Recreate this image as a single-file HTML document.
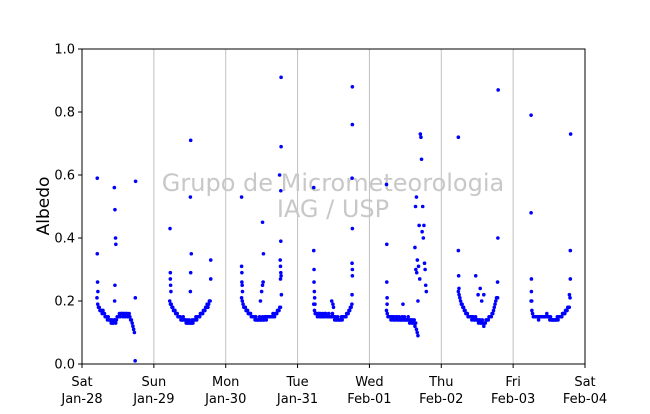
<!DOCTYPE html>
<html><head><meta charset="utf-8"><style>
body{margin:0;background:#fff;width:650px;height:409px;overflow:hidden}
svg{font-family:"DejaVu Sans","Liberation Sans",sans-serif}
</style></head><body>
<svg id="chart" width="650" height="409" viewBox="0 0 650 409" xmlns="http://www.w3.org/2000/svg">
<g id="grid"></g>
<text x="333" y="191" text-anchor="middle" font-size="24" fill="#c8c8c8">Grupo de Micrometeorologia</text>
<text x="333" y="217" text-anchor="middle" font-size="24" fill="#c8c8c8">IAG / USP</text>
<g id="points"></g>
<rect x="82" y="49" width="503" height="315" fill="none" stroke="#000" stroke-width="1"/>
<g id="axes"></g>
<text transform="translate(49,206) rotate(-90)" text-anchor="middle" font-size="17">Albedo</text>
</svg>
<script>
const dayNames=["Sat","Sun","Mon","Tue","Wed","Thu","Fri","Sat"];
const dateNames=["Jan-28","Jan-29","Jan-30","Jan-31","Feb-01","Feb-02","Feb-03","Feb-04"];
const yTicks=[0.0,0.2,0.4,0.6,0.8,1.0];
const dayStarts=[5.0,5.3,5.3,5.4,5.7,5.7,6.0];
const day0=[0.21,0.19,0.18,0.18,0.17,0.17,0.17,0.16,0.17,0.16,0.16,0.15,0.15,0.15,0.14,0.15,0.14,0.14,0.14,0.13,0.14,0.13,0.13,0.14,0.14,0.13,0.14,0.15,0.15,0.15,0.16,0.15,0.16,0.16,0.16,0.15,0.16,0.16,0.15,0.16,0.16,0.15,0.15,0.16,0.15,0.14,0.14,0.13,0.12,0.11,0.10,0.01];
const day1=[0.20,0.19,0.19,0.18,0.18,0.17,0.17,0.17,0.16,0.16,0.16,0.15,0.15,0.15,0.15,0.14,0.14,0.14,0.15,0.14,0.14,0.14,0.13,0.14,0.13,0.13,0.14,0.13,0.13,0.13,0.14,0.13,0.14,0.14,0.14,0.15,0.14,0.15,0.15,0.15,0.15,0.16,0.16,0.16,0.16,0.17,0.17,0.17,0.18,0.18,0.19,0.18,0.19,0.20,0.20];
const day2=[0.21,0.20,0.19,0.18,0.18,0.18,0.17,0.17,0.17,0.16,0.16,0.16,0.16,0.15,0.15,0.15,0.15,0.15,0.14,0.15,0.14,0.14,0.14,0.14,0.15,0.14,0.14,0.14,0.15,0.14,0.14,0.15,0.15,0.14,0.15,0.15,0.15,0.15,0.15,0.15,0.15,0.15,0.16,0.15,0.15,0.16,0.16,0.16,0.17,0.17,0.17,0.18,0.18];
const day3=[0.19,0.17,0.16,0.16,0.16,0.15,0.16,0.16,0.15,0.16,0.15,0.15,0.16,0.15,0.15,0.16,0.16,0.15,0.15,0.15,0.16,0.15,0.15,0.15,0.15,0.16,0.15,0.15,0.14,0.15,0.14,0.14,0.15,0.14,0.14,0.14,0.14,0.15,0.14,0.15,0.15,0.15,0.15,0.15,0.16,0.16,0.16,0.17,0.17,0.18,0.18,0.19];
const day4=[0.17,0.16,0.15,0.15,0.15,0.15,0.14,0.15,0.15,0.14,0.15,0.14,0.14,0.15,0.15,0.14,0.14,0.15,0.14,0.14,0.14,0.15,0.14,0.14,0.15,0.14,0.14,0.14,0.14,0.15,0.14,0.13,0.14,0.14,0.13,0.14,0.13,0.14,0.12,0.13,0.11,0.10,0.09];
const day5=[0.23,0.22,0.21,0.20,0.19,0.19,0.18,0.18,0.17,0.17,0.16,0.16,0.16,0.15,0.15,0.15,0.15,0.15,0.14,0.15,0.15,0.14,0.14,0.15,0.14,0.14,0.14,0.13,0.14,0.14,0.13,0.13,0.14,0.13,0.12,0.13,0.13,0.14,0.14,0.14,0.14,0.15,0.15,0.15,0.15,0.16,0.16,0.17,0.18,0.19,0.20,0.21,0.21];
const day6=[0.20,0.17,0.16,0.15,0.15,0.15,0.15,0.15,0.15,0.15,0.14,0.15,0.15,0.15,0.15,0.15,0.15,0.15,0.15,0.15,0.15,0.16,0.15,0.15,0.15,0.14,0.15,0.14,0.14,0.14,0.14,0.14,0.14,0.14,0.14,0.15,0.14,0.15,0.15,0.15,0.15,0.15,0.16,0.16,0.16,0.16,0.17,0.17,0.17,0.18,0.18,0.18];
const baseSeries=[day0,day1,day2,day3,day4,day5,day6];
const outDays=[0,0,0,0,0,0,0,0,0,0,0,0, 1,1,1,1,1,1,1,1,1,1,1,1, 2,2,2,2,2,2,2,2,2,2,2,2,2,2,2,2,2,2,2,2,2,2,2, 3,3,3,3,3,3,3,3,3,3,3,3,3,3,3,3,3,3, 4,4,4,4,4,4,4,4,4,4,4,4,4,4,4,4,4,4,4,4,4,4,4,4,4,4,4, 5,5,5,5,5,5,5,5,5,5,5,5,5, 6,6,6,6,6,6,6,6,6,6];
const outHours=[5.1,5.1,5.2,5.3,10.8,11.0,11.2,11.3,11.0,10.9,17.9,17.8, 5.4,5.5,5.5,5.6,5.7,12.3,12.2,12.5,12.3,12.2,19.0,19.0, 5.3,5.3,5.4,5.4,5.5,5.6,12.3,12.6,12.5,12.3,12.0,11.6,18.0,18.5,18.5,18.4,18.4,18.2,18.3,18.4,18.5,18.3,18.6, 5.4,5.4,5.5,5.5,5.6,5.7,5.8,11.4,11.8,12.0,18.3,18.3,18.2,18.3,18.2,18.3,18.3,18.2, 5.7,5.8,5.8,5.9,5.9,11.2,15.2,15.4,15.5,15.7,15.8,16.0,16.2,16.4,16.6,16.8,17.0,17.2,17.4,17.6,17.8,18.0,18.2,18.4,18.6,18.8,19.0, 5.7,5.7,5.8,5.9,11.5,12.3,13.0,13.5,14.2,18.8,19.0,18.9,18.8, 6.0,6.0,6.1,6.1,6.2,18.8,19.2,19.1,19.1,19.0];
const outValues=[0.59,0.35,0.26,0.23,0.56,0.49,0.40,0.38,0.25,0.20,0.58,0.21, 0.43,0.29,0.27,0.25,0.23,0.71,0.53,0.35,0.29,0.23,0.33,0.27, 0.53,0.31,0.29,0.26,0.25,0.23,0.45,0.35,0.26,0.25,0.23,0.20,0.60,0.91,0.69,0.55,0.39,0.33,0.31,0.29,0.28,0.27,0.22, 0.56,0.36,0.30,0.26,0.23,0.21,0.19,0.20,0.19,0.18,0.88,0.76,0.59,0.43,0.32,0.30,0.28,0.22, 0.57,0.38,0.26,0.21,0.19,0.19,0.37,0.50,0.30,0.53,0.29,0.33,0.20,0.31,0.44,0.27,0.73,0.72,0.65,0.42,0.50,0.40,0.44,0.32,0.30,0.25,0.23, 0.72,0.36,0.28,0.24,0.28,0.22,0.24,0.20,0.22,0.26,0.87,0.40,0.21, 0.79,0.48,0.27,0.23,0.20,0.22,0.73,0.36,0.27,0.21];

const X0=82,X1=585,Y0=364,Y1=49;
const xs=t=>X0+t/168*(X1-X0);
const ys=v=>Y0-v*(Y0-Y1);
const NS="http://www.w3.org/2000/svg";
const grid=document.getElementById('grid'),axes=document.getElementById('axes'),pts=document.getElementById('points');
function mk(tag,attrs,parent){const e=document.createElementNS(NS,tag);for(const k in attrs)e.setAttribute(k,attrs[k]);parent.appendChild(e);return e;}
dayNames.forEach((d,i)=>{
  const x=xs(i*24);
  if(i>0&&i<7){const g=mk('line',{x1:x,x2:x,y1:Y1,y2:Y0,stroke:'#c0c0c0','stroke-width':1},grid);
  
  }
  const t=mk('line',{x1:x,x2:x,y1:Y0,y2:Y0+4,stroke:'#000'},axes);
  
  
  const l=mk('text',{x:x,y:386,'text-anchor':'middle','font-size':13},axes);
  
  
  l.textContent=d;
  const l2=mk('text',{x:x,y:403,'text-anchor':'middle','font-size':13},axes);
  
  
  l2.textContent=dateNames[i];
});
yTicks.forEach(v=>{
  const y=ys(v);
  const t=mk('line',{x1:X0-4,x2:X0,y1:y,y2:y,stroke:'#000'},axes);
  
  
  const l=mk('text',{x:X0-7,y:y+4.5,'text-anchor':'end','font-size':13},axes);
  
  
  l.textContent=v.toFixed(1);
});
baseSeries.forEach((arr,d)=>{
  arr.forEach((v,i)=>{
    const c=mk('circle',{cx:xs(d*24+dayStarts[d]+i*0.25),cy:ys(v),r:1.8,fill:'#0000ff'},pts);
    
    
  });
});
outValues.forEach((v,i)=>{
  const c=mk('circle',{cx:xs(outDays[i]*24+outHours[i]),cy:ys(v),r:1.8,fill:'#0000ff'},pts);
  
  
});
</script>
</body></html>
